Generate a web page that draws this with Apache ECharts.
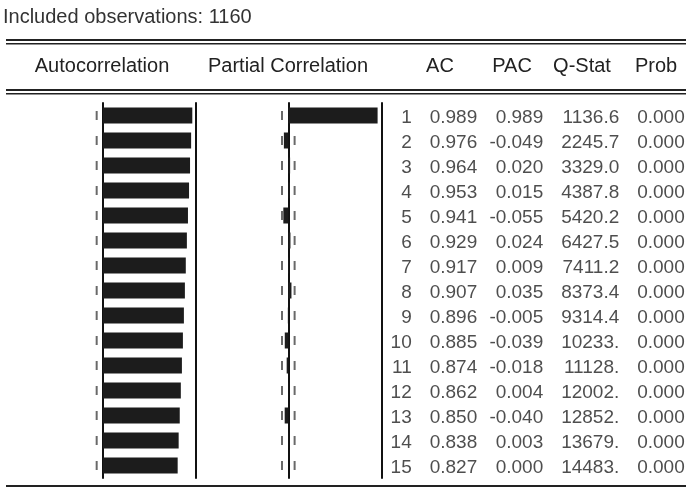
<!DOCTYPE html>
<html>
<head>
<meta charset="utf-8">
<script src="https://cdn.jsdelivr.net/npm/echarts@6/dist/echarts.min.js"></script>
<style>
html,body{margin:0;padding:0;background:#fff;}
#chart{width:686px;height:488px;}
</style>
</head>
<body>
<div id="chart"></div>
<script>
// ---- data ----
const nObs = 1160;
const lags = ['1','2','3','4','5','6','7','8','9','10','11','12','13','14','15'];
const acValues = [0.989,0.976,0.964,0.953,0.941,0.929,0.917,0.907,0.896,0.885,0.874,0.862,0.850,0.838,0.827];
const pacValues = [0.989,-0.049,0.020,0.015,-0.055,0.024,0.009,0.035,-0.005,-0.039,-0.018,0.004,-0.040,0.003,0.000];
const qStatValues = [1136.6,2245.7,3329.0,4387.8,5420.2,6427.5,7411.2,8373.4,9314.4,10233,11128,12002,12852,13679,14483];
const probValues = [0.000,0.000,0.000,0.000,0.000,0.000,0.000,0.000,0.000,0.000,0.000,0.000,0.000,0.000,0.000];
const tableColumns = ['AC','PAC','Q-Stat','Prob'];
const headerLabels = ['Autocorrelation','Partial Correlation','AC','PAC','Q-Stat','Prob'];
const confBound = 0.07;

// ---- style / layout ----
const FONT = '"Liberation Sans", Arial, sans-serif';
const FS = 19;
const TXT = '#222';
const BAR = '#1c1c1c';
const LINE = '#111';
const gridTop = 103, gridH = 375;
const headerCX = [102, 288, 440, 512, 582, 656];
const colOffsets = [41.5, 36, 40.5, 34.5];
const lagOffset = -24;

function fmtQ(v){ return v >= 10000 ? Math.round(v) + '.' : v.toFixed(1); }
const colFormat = [v=>v.toFixed(3), v=>v.toFixed(3), fmtQ, v=>v.toFixed(3)];
const colValues = [acValues, pacValues, qStatValues, probValues];

function hiddenValueX(grid, min, max){
  return {type:'value', gridIndex:grid, min:min, max:max,
    axisLine:{show:false}, axisTick:{show:false}, axisLabel:{show:false}, splitLine:{show:false}};
}
function catY(grid, pos, onZero, showLine){
  return {type:'category', gridIndex:grid, data:lags, inverse:true, position:pos,
    axisLine:{show:showLine, onZero:onZero, lineStyle:{color:LINE, width:2}},
    axisTick:{show:false}, splitLine:{show:false}, axisLabel:{show:false}};
}
function confSeries(xi, yi){
  const d = [];
  lags.forEach(l => { d.push([-confBound, l]); d.push([confBound, l]); });
  return {type:'scatter', xAxisIndex:xi, yAxisIndex:yi, data:d, symbol:'rect',
    symbolSize:[2,9], itemStyle:{color:'#444'}, z:2, silent:true};
}
function textColumn(col, values, fmt, dx){
  return {
    type:'scatter', xAxisIndex:2, yAxisIndex:4, symbol:'circle', symbolSize:1,
    itemStyle:{color:'rgba(0,0,0,0)'},
    data: values.map((v, i) => ({value:[col, lags[i]], raw:v})),
    label:{show:true, position:'inside', align:'right', verticalAlign:'middle',
      offset:[dx, 2], color:TXT, fontFamily:FONT, fontSize:FS,
      formatter: p => fmt(p.data.raw)},
    silent:true
  };
}

const chart = echarts.init(document.getElementById('chart'), null, {renderer:'canvas'});

const series = [
  confSeries(0,0),
  confSeries(1,2),
  {type:'bar', xAxisIndex:0, yAxisIndex:0, data:acValues, barWidth:16, itemStyle:{color:BAR}, z:3},
  {type:'bar', xAxisIndex:1, yAxisIndex:2, data:pacValues, barWidth:16, itemStyle:{color:BAR}, z:3},
  textColumn(tableColumns[0], lags, v => v, lagOffset)
];
tableColumns.forEach((c, ci) => {
  series.push(textColumn(c, colValues[ci], colFormat[ci], colOffsets[ci]));
});

const graphics = [
  {type:'text', x:3, y:17, style:{text:'Included observations: ' + nObs, font:'20px ' + FONT, fill:'#333', textVerticalAlign:'middle'}},
  {type:'rect', shape:{x:6, y:39, width:680, height:2}, style:{fill:'#222'}},
  {type:'rect', shape:{x:6, y:43, width:680, height:1.5}, style:{fill:'#222'}},
  {type:'rect', shape:{x:6, y:89, width:680, height:2}, style:{fill:'#222'}},
  {type:'rect', shape:{x:6, y:93, width:680, height:1.5}, style:{fill:'#222'}},
  {type:'rect', shape:{x:6, y:485, width:680, height:2}, style:{fill:'#222'}}
];
headerLabels.forEach((t, i) => {
  graphics.push({type:'text', x:headerCX[i], y:66, style:{text:t, font:'20px ' + FONT, fill:TXT, textAlign:'center', textVerticalAlign:'middle'}});
});

chart.setOption({
  backgroundColor:'#fff',
  animation:false,
  grid:[
    {left:12.7, width:183.3, top:gridTop, height:gridH},
    {left:198, width:183.3, top:gridTop, height:gridH},
    {left:400, width:286, top:gridTop, height:gridH}
  ],
  xAxis:[
    hiddenValueX(0, -1, 1.03),
    hiddenValueX(1, -1, 1.03),
    {type:'category', gridIndex:2, data:tableColumns, show:false}
  ],
  yAxis:[
    catY(0, 'left', true, true),
    catY(0, 'right', false, true),
    catY(1, 'left', true, true),
    catY(1, 'right', false, true),
    {type:'category', gridIndex:2, data:lags, inverse:true, show:false}
  ],
  series:series,
  graphic:graphics
});
</script>
</body>
</html>
